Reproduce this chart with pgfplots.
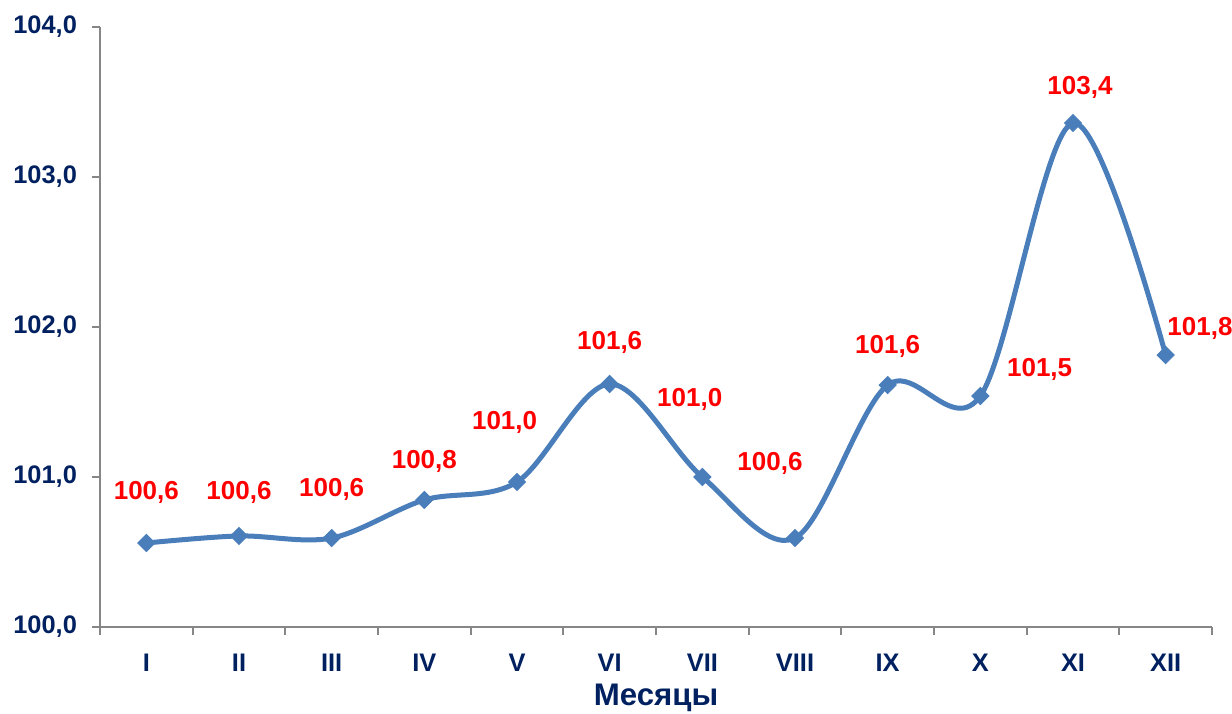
\documentclass[border=0pt]{standalone}
\usepackage{pgfplots}
\pgfplotsset{compat=1.18}
\usepackage{fontspec}
\setmainfont{Liberation Sans}
\definecolor{lineblue}{HTML}{4A7EBB}
\definecolor{navy}{HTML}{002060}
\definecolor{axgray}{HTML}{868686}
\begin{document}
\begin{tikzpicture}
\path[use as bounding box] (-50pt,-43pt) rectangle (566pt,313.5pt);
\begin{axis}[
  at={(0,0)}, anchor=south west,
  scale only axis, width=556pt, height=300pt,
  xmin=-0.5, xmax=11.5, ymin=100, ymax=104,
  axis x line*=bottom, axis y line*=left,
  axis line style={axgray, line width=1pt},
  xtick={0,...,11},
  xticklabels={I,II,III,IV,V,VI,VII,VIII,IX,X,XI,XII},
  minor xtick={-0.5,0.5,...,11.5},
  x tick style={draw=none},
  minor x tick style={draw=axgray, line width=1pt},
  minor tick length=4pt,
  ytick={100,101,102,103,104},
  y tick style={axgray, line width=1pt},
  major tick length=4pt,
  tick align=outside,
  yticklabel={\pgfmathprintnumber[fixed, fixed zerofill, precision=1, use comma]{\tick}},
  /pgf/number format/assume math mode=true,
  ticklabel style={font=\fontsize{12.7}{14}\selectfont\bfseries, text=navy},
  xticklabel style={yshift=-6pt, font=\fontsize{12.7}{14}\selectfont\bfseries},
  yticklabel style={xshift=-4pt},
  xlabel={Месяцы},
  xlabel style={font=\fontsize{15.6}{17}\selectfont\bfseries, text=navy, yshift=0.5pt},
  clip=false,
]
\addplot[lineblue, line width=2.5pt, smooth, tension=0.55, mark=square*, mark size=3pt, mark options={rotate=45, fill=lineblue, draw=lineblue, line width=0.5pt}]
  table {
x y
0 100.56
1 100.607
2 100.593
3 100.847
4 100.967
5 101.62
6 101.0
7 100.593
8 101.613
9 101.54
10 103.36
11 101.813
};
\addplot[draw=none, mark=none, point meta=explicit symbolic, nodes near coords,
  every node near coord/.append style={anchor=center, text=red, font=\fontsize{13}{14}\selectfont\bfseries}]
  table[meta=lbl] {
x y lbl
0 100.9 100,6
1 100.9 100,6
2 100.92 100,6
3 101.107 100,8
3.866 101.367 101,0
5 101.9 101,6
5.864 101.52 101,0
6.73 101.093 100,6
8.0 101.873 101,6
9.64 101.72 101,5
10.075 103.6 103,4
11.37 101.993 101,8
};
\end{axis}
\end{tikzpicture}
\end{document}
